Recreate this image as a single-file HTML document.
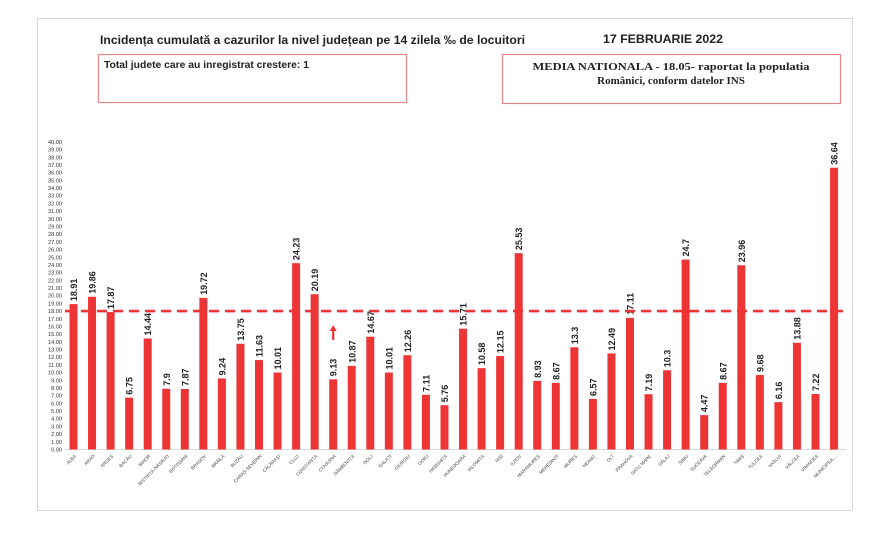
<!DOCTYPE html>
<html><head><meta charset="utf-8"><style>
html,body{margin:0;padding:0;background:#fff;width:880px;height:535px;overflow:hidden}
svg{display:block}
</style></head><body>
<svg id="s" width="880" height="535" xmlns="http://www.w3.org/2000/svg" font-family="Liberation Sans, sans-serif">
<rect x="0" y="0" width="880" height="535" fill="#fff"/>
<rect x="37.5" y="18.5" width="815" height="492" fill="#fff" stroke="#d9d9d9" stroke-width="1"/>
<text x="100" y="44" font-size="12" font-weight="bold" fill="#222" textLength="425" lengthAdjust="spacingAndGlyphs">Incidența cumulată a cazurilor la nivel județean pe 14 zilela ‰ de locuitori</text>
<text x="603" y="43" font-size="12" font-weight="bold" fill="#222" textLength="120" lengthAdjust="spacingAndGlyphs">17 FEBRUARIE 2022</text>
<rect x="98.5" y="54.5" width="308" height="48" fill="none" stroke="#e8868a" stroke-width="1.2"/>
<text x="104" y="68" font-size="10" font-weight="bold" fill="#222" textLength="205" lengthAdjust="spacingAndGlyphs">Total judete care au inregistrat crestere: 1</text>
<rect x="502.5" y="54.5" width="338" height="49" fill="none" stroke="#e8868a" stroke-width="1.2"/>
<text x="671" y="70" font-size="11" font-weight="bold" fill="#222" text-anchor="middle" font-family="Liberation Serif, serif" textLength="277" lengthAdjust="spacingAndGlyphs">MEDIA NATIONALA - 18.05-  raportat la populatia</text>
<text x="671" y="84" font-size="11" font-weight="bold" fill="#222" text-anchor="middle" font-family="Liberation Serif, serif">Românici, conform datelor INS</text>
<g id="g"></g>
</svg>
<script>
(function(){
var names=["ALBA","ARAD","ARGEȘ","BACĂU","BIHOR","BISTRIȚA-NĂSĂUD","BOTOȘANI","BRAȘOV","BRĂILA","BUZĂU","CARAȘ-SEVERIN","CĂLĂRAȘI","CLUJ","CONSTANȚA","COVASNA","DÂMBOVIȚA","DOLJ","GALAȚI","GIURGIU","GORJ","HARGHITA","HUNEDOARA","IALOMIȚA","IAȘI","ILFOV","MARAMUREȘ","MEHEDINȚI","MUREȘ","NEAMȚ","OLT","PRAHOVA","SATU MARE","SĂLAJ","SIBIU","SUCEAVA","TELEORMAN","TIMIȘ","TULCEA","VASLUI","VÂLCEA","VRANCEA","MUNICIPIUL..."];
var vals=["18.91","19.86","17.87","6.75","14.44","7.9","7.87","19.72","9.24","13.75","11.63","10.01","24.23","20.19","9.13","10.87","14.67","10.01","12.26","7.11","5.76","15.71","10.58","12.15","25.53","8.93","8.67","13.3","6.57","12.49","17.11","7.19","10.3","24.7","4.47","8.67","23.96","9.68","6.16","13.88","7.22","36.64"];
var y0=449.5,k=7.69,h='';
for(var i=0;i<=40;i++){var y=y0-i*k;h+='<text x="62" y="'+(y+2)+'" font-size="5.6" text-anchor="end" fill="#333">'+i.toFixed(2)+'</text>';}
h+='<line x1="65" y1="'+y0+'" x2="846" y2="'+y0+'" stroke="#d9d9d9" stroke-width="1"/>';
for(var i=0;i<42;i++){var cx=73.5+i*18.55,v=parseFloat(vals[i]),ty=y0-v*k;
h+='<rect x="'+(cx-4)+'" y="'+ty+'" width="8" height="'+(y0-ty)+'" fill="#ee3535"/>';
h+='<text transform="translate('+(cx+3.5)+','+(ty-3)+') rotate(-90)" font-size="9" font-weight="bold" fill="#222">'+vals[i]+'</text>';
h+='<text transform="translate('+(cx+3)+','+(y0+7)+') rotate(-45)" font-size="4.6" text-anchor="end" fill="#444">'+names[i]+'</text>';}
var yd=y0-18*k;
h+='<line x1="65" y1="'+yd+'" x2="846" y2="'+yd+'" stroke="#ee3535" stroke-width="2.6" stroke-dasharray="10,6"/>';
var ax=73.5+14*18.55;
h+='<line x1="'+ax+'" y1="340" x2="'+ax+'" y2="330" stroke="#ee3535" stroke-width="2.2"/><polygon points="'+(ax-3.5)+',331 '+(ax+3.5)+',331 '+ax+',325" fill="#ee3535"/>';
document.getElementById('g').innerHTML=h;
})();
</script>
</body></html>
